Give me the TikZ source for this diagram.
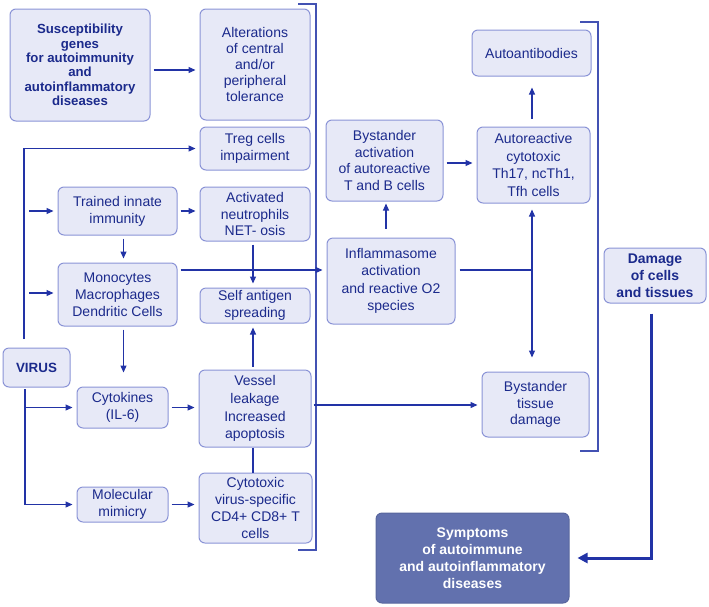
\documentclass[tikz,border=0pt]{standalone}
\usepackage{fontspec}
\setmainfont{Liberation Sans}
\usetikzlibrary{arrows.meta,calc}
\definecolor{txt}{HTML}{1B2A8C}
\definecolor{lnc}{HTML}{2233A6}
\definecolor{bd}{HTML}{8A93D6}
\definecolor{bf}{HTML}{E7E9F7}
\definecolor{sf}{HTML}{6271AE}
\begin{document}
\begin{tikzpicture}[x=1pt,y=-1pt,
 box/.style={draw=bd, fill=bf, line width=1pt, rounded corners=6pt, align=center, text=txt, inner sep=0pt, font=\fontsize{14}{16.8}\selectfont},
 bbox/.style={box, font=\fontsize{13.2}{14.4}\selectfont\bfseries},
 arr/.style={draw=lnc, line width=1.2pt, -{Triangle[length=7pt,width=6pt]}, shorten >=4pt, shorten <=3pt},
 plain/.style={draw=lnc, line width=1.2pt},
 brk/.style={draw=lnc!85!white, line width=1.2pt},
 thk/.style={draw=lnc, line width=3pt, -{Triangle[length=10pt,width=10pt]}}]
\useasboundingbox (0,0) rectangle (709,606);

\node[bbox, minimum width=140pt, minimum height=112pt] (sus) at (80,65) {Susceptibility\\genes\\for autoimmunity\\and\\autoinflammatory\\diseases};
\node[box, font=\fontsize{14}{15.8}\selectfont, minimum width=110pt, minimum height=111pt] (alt) at (255,64.5) {Alterations\\of central\\and/or\\peripheral\\tolerance};
\node[box, minimum width=110pt, minimum height=43pt] (treg) at (255,148.5) {Treg cells\\impairment};
\node[box, minimum width=119pt, minimum height=48pt] (trained) at (117.5,211) {Trained innate\\immunity};
\node[box, minimum width=110pt, minimum height=54pt] (neut) at (255,214) {Activated\\neutrophils\\NET- osis};
\node[box, minimum width=119pt, minimum height=63pt] (mono) at (117.5,294.5) {Monocytes\\Macrophages\\Dendritic Cells};
\node[box, minimum width=110pt, minimum height=35pt] (self) at (255,305.5) {Self antigen\\spreading};
\node[bbox, font=\fontsize{13.4}{15}\selectfont\bfseries, minimum width=67pt, minimum height=39pt] (virus) at (36.5,367.5) {VIRUS};
\node[box, minimum width=91pt, minimum height=41pt] (cyto) at (122.5,407.5) {Cytokines\\(IL-6)};
\node[box, font=\fontsize{14}{17.8}\selectfont, minimum width=112pt, minimum height=77pt] (vessel) at (255,408.5) {Vessel\\leakage\\Increased\\apoptosis};
\node[box, minimum width=91pt, minimum height=35pt] (mimic) at (122.5,504.5) {Molecular\\mimicry};
\node[box, minimum width=113pt, minimum height=70pt] (ctl) at (255.5,508) {Cytotoxic\\virus-specific\\CD4+ CD8+ T\\cells};
\node[box, minimum width=117pt, minimum height=81pt] (bact) at (384.5,160.5) {Bystander\\activation\\of autoreactive\\T and B cells};
\node[box, minimum width=119pt, minimum height=46pt] (autoab) at (531.5,53) {Autoantibodies};
\node[box, font=\fontsize{14}{17.4}\selectfont, minimum width=113pt, minimum height=76pt] (autor) at (533.5,165) {Autoreactive\\cytotoxic\\Th17, ncTh1,\\Tfh cells};
\node[box, font=\fontsize{14}{17.4}\selectfont, minimum width=128pt, minimum height=86pt] (infl) at (391,281) {Inflammasome\\activation\\and reactive O2\\species};
\node[box, font=\fontsize{14}{16.3}\selectfont, minimum width=107pt, minimum height=65pt] (btd) at (535.5,404.5) {Bystander\\tissue\\damage};
\node[bbox, font=\fontsize{14}{16.8}\selectfont\bfseries, minimum width=102pt, minimum height=55pt] (dmg) at (655,275.5) {Damage\\of cells\\and tissues};
\node[bbox, fill=sf, draw=sf!90!black, text=white, font=\fontsize{14}{16.9}\selectfont\bfseries, minimum width=193pt, minimum height=90pt] (sym) at (472.5,558) {Symptoms\\of autoimmune\\and autoinflammatory\\diseases};

% brackets
\draw[brk] (298,4) -- (316,4) -- (316,550) -- (298,550);
\draw[brk] (580,22) -- (598,22) -- (598,451) -- (580,451);

% connectors
\draw[arr] (sus.east |- 0,70) -- (alt.west |- 0,70);
\coordinate (vtop) at (24,339);
\coordinate (v1) at (29,211);
\coordinate (v2) at (29,293);
\coordinate (vbot) at (25,389);
\draw[arr, shorten <=0pt] (vtop) |- (treg.west);
\draw[arr, shorten <=0pt] (v1) -- (v1 -| trained.west);
\draw[arr, shorten <=0pt] (v2) -- (v2 -| mono.west);
\draw[arr, shorten <=0pt] (vbot) |- (cyto.west);
\draw[arr, shorten <=0pt] (vbot) |- (mimic.west);
\draw[arr] (trained.east) -- (trained.east -| neut.west);
\draw[arr] ([xshift=6pt]trained.south) -- ([xshift=6pt]trained.south |- mono.north);
\draw[arr] (mono.east |- 0,270) -- (infl.west |- 0,270);
\draw[arr] (neut.south -| 253,0) -- (self.north -| 253,0);
\draw[arr] (vessel.north -| 253,0) -- (self.south -| 253,0);
\draw[plain] (vessel.south -| 253,0) -- (ctl.north -| 253,0);
\draw[arr, shorten >=14pt] ([xshift=6pt]mono.south) -- ([xshift=6pt]mono.south |- cyto.north);
\draw[arr] (cyto.east) -- (cyto.east -| vessel.west);
\draw[arr] (mimic.east) -- (mimic.east -| ctl.west);
\draw[arr, shorten <=2pt] (vessel.east |- 0,405) -- (btd.west |- 0,405);
\draw[arr, shorten <=9pt, shorten >=2pt] (infl.north -| 386,0) -- (bact.south -| 386,0);
\draw[arr] (bact.east |- 0,163) -- (autor.west |- 0,163);
\draw[arr, shorten <=8pt, shorten >=11pt] (autor.north -| 532,0) -- (autoab.south -| 532,0);
\coordinate (j) at (532,270);
\draw[plain, shorten <=4pt] (infl.east |- 0,270) -- (j);
\draw[arr, shorten <=0pt, shorten >=6pt] (j) -- (j |- autor.south);
\draw[arr, shorten <=0pt, shorten >=14pt] (j) -- (j |- btd.north);
\draw[thk, shorten <=10pt, shorten >=8pt] (dmg.south -| 651,0) |- (sym.east);
\end{tikzpicture}
\end{document}
